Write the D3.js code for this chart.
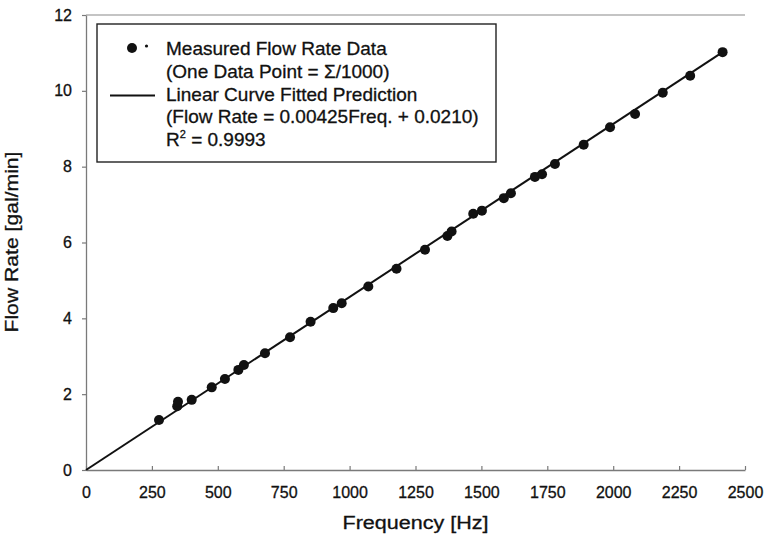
<!DOCTYPE html>
<html>
<head>
<meta charset="utf-8">
<script src="https://cdn.jsdelivr.net/npm/d3@7/dist/d3.min.js"></script>
<style>
  body { margin: 0; background: #ffffff; }
  svg text { font-family: "Liberation Sans", Arial, sans-serif; fill: #111; stroke: #111; stroke-width: 0.3px; }
</style>
</head>
<body>
<svg id="chart" width="769" height="550"></svg>
<script>
// Measured flow-meter calibration points
const frequencyHz = [277, 346, 349, 401, 477, 527, 578, 599, 679, 774, 852, 938, 970, 1071,
  1178, 1286, 1371, 1387, 1469, 1502, 1585, 1612, 1703, 1730, 1779, 1888, 1988, 2083,
  2188, 2292, 2415];
const flowRate = [1.32, 1.68, 1.80, 1.85, 2.18, 2.40, 2.64, 2.77, 3.08, 3.50, 3.91, 4.27, 4.40, 4.84,
  5.31, 5.81, 6.17, 6.29, 6.76, 6.84, 7.17, 7.30, 7.73, 7.80, 8.07, 8.58, 9.04, 9.39,
  9.95, 10.40, 11.02];

// Fitted straight line, drawn end to end
const fitFrequency = [0, 2415];
const fitFlow = [0, 11.02];

const xTicks = [0, 250, 500, 750, 1000, 1250, 1500, 1750, 2000, 2250, 2500];
const yTicks = [0, 2, 4, 6, 8, 10, 12];

const legendLines = [
  "Measured Flow Rate Data",
  "(One Data Point = \u03A3/1000)",
  "Linear Curve Fitted Prediction",
  "(Flow Rate = 0.00425Freq. + 0.0210)"
];
const rSquared = "0.9993";

const xTitle = "Frequency [Hz]";
const yTitle = "Flow Rate [gal/min]";

const svg = d3.select("#chart");
const plotLeft = 86, plotRight = 745, plotTop = 15, plotBottom = 470;

const x = d3.scaleLinear().domain([0, 2500]).range([plotLeft, plotRight]);
const y = d3.scaleLinear().domain([0, 12]).range([plotBottom, plotTop]);

// Plot frame: top edge
svg.append("line")
  .attr("x1", x(0)).attr("x2", x(2500))
  .attr("y1", y(12)).attr("y2", y(12))
  .attr("stroke", "#8a8a8a").attr("stroke-width", 1.2);

// Axes
const xAxis = svg.append("g")
  .attr("transform", `translate(0,${plotBottom})`)
  .call(d3.axisBottom(x).tickValues(xTicks).tickFormat(d3.format("d"))
    .tickSizeInner(-4).tickSizeOuter(0).tickPadding(17));
const yAxis = svg.append("g")
  .attr("transform", `translate(${plotLeft},0)`)
  .call(d3.axisLeft(y).tickValues(yTicks).tickFormat(d3.format("d"))
    .tickSizeInner(4).tickSizeOuter(0).tickPadding(10));

[xAxis, yAxis].forEach(g => {
  g.select(".domain").attr("stroke", "#7a7a7a").attr("stroke-width", 1.3);
  g.selectAll(".tick line").attr("stroke", "#7a7a7a").attr("stroke-width", 1.2);
  g.selectAll(".tick text").attr("font-size", 16).attr("fill", "#111")
    .attr("font-family", "'Liberation Sans', Arial, sans-serif");
});

// Fitted line
svg.append("path")
  .datum(fitFrequency.map((f, i) => [f, fitFlow[i]]))
  .attr("fill", "none")
  .attr("stroke", "#111")
  .attr("stroke-width", 2)
  .attr("d", d3.line().x(d => x(d[0])).y(d => y(d[1])));

// Measured points
svg.append("g").selectAll("circle")
  .data(frequencyHz.map((f, i) => [f, flowRate[i]]))
  .join("circle")
  .attr("cx", d => x(d[0]))
  .attr("cy", d => y(d[1]))
  .attr("r", 5)
  .attr("fill", "#111");

// Axis titles
svg.append("text")
  .attr("x", (plotLeft + plotRight) / 2).attr("y", 529)
  .attr("text-anchor", "middle")
  .attr("font-size", 18)
  .attr("textLength", 146).attr("lengthAdjust", "spacingAndGlyphs")
  .text(xTitle);

svg.append("text")
  .attr("transform", `translate(18,242) rotate(-90)`)
  .attr("text-anchor", "middle")
  .attr("font-size", 18)
  .attr("textLength", 181).attr("lengthAdjust", "spacingAndGlyphs")
  .text(yTitle);

// Legend
const legend = svg.append("g");
legend.append("rect")
  .attr("x", 97).attr("y", 24).attr("width", 399).attr("height", 138)
  .attr("fill", "#fff").attr("stroke", "#222").attr("stroke-width", 1.4);

legend.append("circle").attr("cx", 132).attr("cy", 48).attr("r", 5).attr("fill", "#111");
legend.append("circle").attr("cx", 146.5).attr("cy", 46).attr("r", 1.6).attr("fill", "#111");
legend.append("line")
  .attr("x1", 110).attr("x2", 155).attr("y1", 95.5).attr("y2", 95.5)
  .attr("stroke", "#111").attr("stroke-width", 2);

const rowBase = [55, 77.5, 101, 123, 145.5];
legendLines.forEach((t, i) => {
  legend.append("text")
    .attr("x", 166).attr("y", rowBase[i])
    .attr("font-size", 19)
    .text(t);
});
const r2 = legend.append("text").attr("x", 166).attr("y", rowBase[4]).attr("font-size", 19);
r2.append("tspan").text("R");
r2.append("tspan").attr("font-size", 11).attr("dy", -8).text("2");
r2.append("tspan").attr("dy", 8).text(" = " + rSquared);
</script>
</body>
</html>
